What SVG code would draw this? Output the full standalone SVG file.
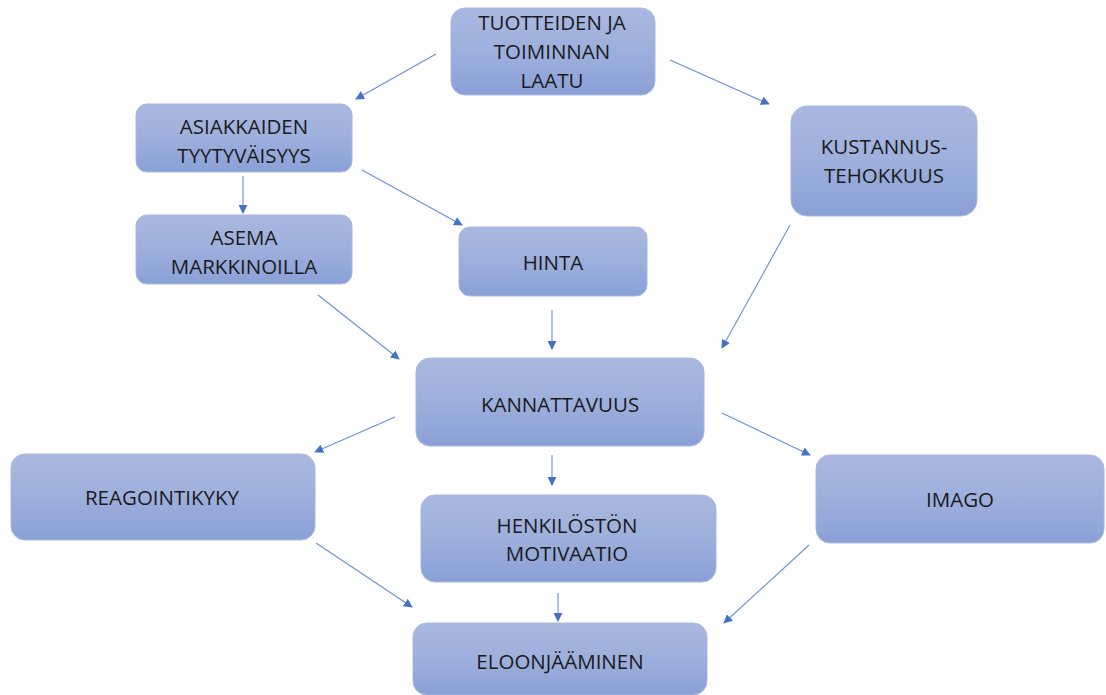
<svg xmlns="http://www.w3.org/2000/svg" width="1106" height="695" viewBox="0 0 1106 695">
  <defs>
    <linearGradient id="boxFill" x1="0" y1="0" x2="0" y2="1">
      <stop offset="0" stop-color="#aab8e0"/>
      <stop offset="0.5" stop-color="#9dafdc"/>
      <stop offset="1" stop-color="#8aa0d6"/>
    </linearGradient>
    <marker id="arrow" viewBox="0 0 10 10" refX="9" refY="5" markerWidth="9" markerHeight="9" markerUnits="userSpaceOnUse" orient="auto">
      <path d="M0,0 L10,5 L0,10 Z" fill="#4472c4"/>
    </marker>
  </defs>
  <style>
    .box { fill: url(#boxFill); stroke: #a7b8e2; stroke-width: 1; }
    .label { font-family: "Open Sans", "Liberation Sans", sans-serif; font-size: 20.5px; fill: #1a1a1a; text-anchor: middle; dominant-baseline: central; }
    .conn { stroke: #6a8fd6; stroke-width: 1.1; fill: none; marker-end: url(#arrow); }
  </style>
  <rect width="1106" height="695" fill="#ffffff"/>

  <g id="connectors">
    <line class="conn" x1="436" y1="54" x2="356" y2="99"/>
    <line class="conn" x1="670" y1="60" x2="769" y2="104"/>
    <line class="conn" x1="243" y1="176" x2="243" y2="213"/>
    <line class="conn" x1="362" y1="170" x2="462" y2="225"/>
    <line class="conn" x1="790" y1="225" x2="722" y2="348"/>
    <line class="conn" x1="318" y1="295" x2="399" y2="359"/>
    <line class="conn" x1="552" y1="310" x2="552" y2="349"/>
    <line class="conn" x1="395" y1="417" x2="315" y2="452"/>
    <line class="conn" x1="552" y1="455" x2="552" y2="485"/>
    <line class="conn" x1="722" y1="413" x2="810" y2="455"/>
    <line class="conn" x1="316" y1="543" x2="412" y2="607"/>
    <line class="conn" x1="809" y1="545" x2="724" y2="623"/>
    <line class="conn" x1="558" y1="593" x2="558" y2="621"/>
  </g>

  <g id="node-laatu">
    <rect class="box" x="451" y="8" width="204" height="87" rx="14"/>
    <text class="label" x="552" y="22">TUOTTEIDEN JA</text>
    <text class="label" x="552" y="51">TOIMINNAN</text>
    <text class="label" x="552" y="80">LAATU</text>
  </g>
  <g id="node-tyytyvaisyys">
    <rect class="box" x="136" y="104" width="216" height="68" rx="11"/>
    <text class="label" x="244" y="126">ASIAKKAIDEN</text>
    <text class="label" x="244" y="155">TYYTYVÄISYYS</text>
  </g>
  <g id="node-kustannus">
    <rect class="box" x="791" y="106" width="186" height="110" rx="16"/>
    <text class="label" x="884" y="146">KUSTANNUS-</text>
    <text class="label" x="884" y="175">TEHOKKUUS</text>
  </g>
  <g id="node-asema">
    <rect class="box" x="136" y="215" width="216" height="69" rx="11"/>
    <text class="label" x="244" y="237">ASEMA</text>
    <text class="label" x="244" y="266">MARKKINOILLA</text>
  </g>
  <g id="node-hinta">
    <rect class="box" x="459" y="227" width="188" height="69" rx="11"/>
    <text class="label" x="553" y="262">HINTA</text>
  </g>
  <g id="node-kannattavuus">
    <rect class="box" x="416" y="358" width="288" height="88" rx="14"/>
    <text class="label" x="560" y="404">KANNATTAVUUS</text>
  </g>
  <g id="node-reagointikyky">
    <rect class="box" x="11" y="454" width="304" height="86" rx="14"/>
    <text class="label" x="162" y="497">REAGOINTIKYKY</text>
  </g>
  <g id="node-motivaatio">
    <rect class="box" x="421" y="495" width="295" height="87" rx="14"/>
    <text class="label" x="567" y="525">HENKILÖSTÖN</text>
    <text class="label" x="567" y="553">MOTIVAATIO</text>
  </g>
  <g id="node-imago">
    <rect class="box" x="816" y="455" width="288" height="88" rx="14"/>
    <text class="label" x="960" y="499">IMAGO</text>
  </g>
  <g id="node-eloonjaaminen">
    <rect class="box" x="413" y="623" width="294" height="72" rx="14"/>
    <text class="label" x="560" y="661">ELOONJÄÄMINEN</text>
  </g>
</svg>
